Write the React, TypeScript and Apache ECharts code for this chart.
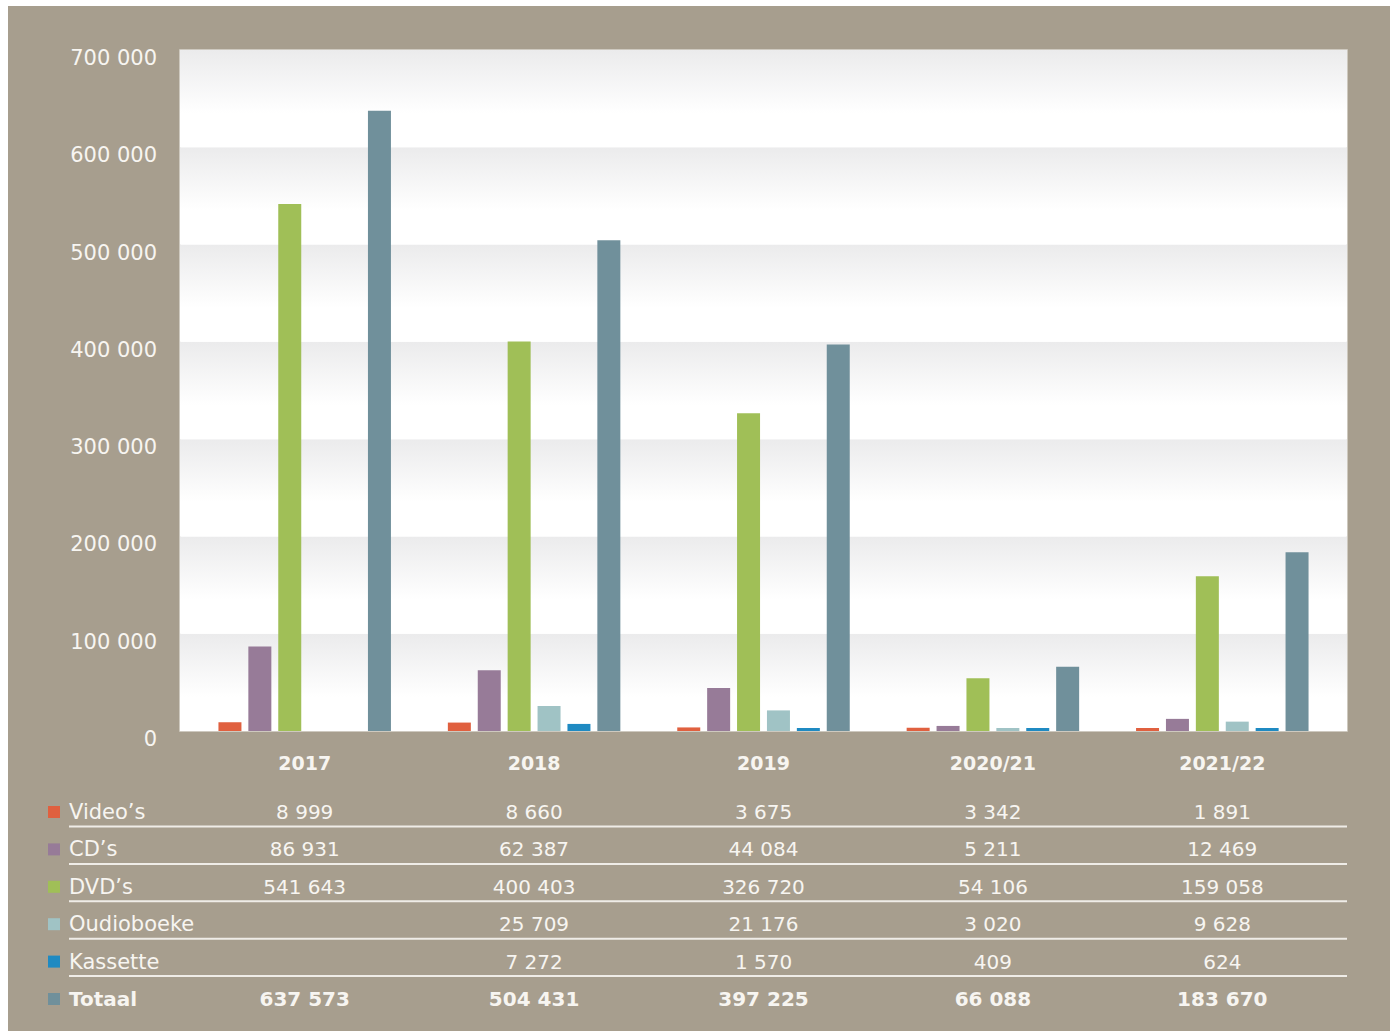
import React, { useEffect, useRef } from "react";
import * as echarts from "echarts";

const categories = ["2017", "2018", "2019", "2020/21", "2021/22"];
const seriesNames = ["Video’s", "CD’s", "DVD’s", "Oudioboeke", "Kassette", "Totaal"];
const seriesColors = ["#e0603f", "#977b98", "#a0bf57", "#a0c3c5", "#1f8ac2", "#70909b"];
const videos = [8999, 8660, 3675, 3342, 1891];
const cds = [86931, 62387, 44084, 5211, 12469];
const dvds = [541643, 400403, 326720, 54106, 159058];
const oudioboeke = [null, 25709, 21176, 3020, 9628];
const kassette = [null, 7272, 1570, 409, 624];
const totaal = [637573, 504431, 397225, 66088, 183670];
const yMin = 0;
const yMax = 700000;
const yInterval = 100000;

const allSeries = [videos, cds, dvds, oudioboeke, kassette, totaal];

const BG = "#a79e8e";
const FONT = "'DejaVu Sans', sans-serif";
const TEXT = "#f7f5f1";

const fmt = (n: number | null) =>
  n == null ? "" : String(n).replace(/\B(?=(\d{3})+(?!\d))/g, " ");

export default function App() {
  const ref = useRef<HTMLDivElement>(null);
  useEffect(() => {
    if (!ref.current) return;
    const chart = echarts.init(ref.current, null, { renderer: "svg" });
    const band = new echarts.graphic.LinearGradient(0, 0, 0, 1, [
      { offset: 0, color: "#ebebec" },
      { offset: 0.65, color: "#ffffff" },
      { offset: 1, color: "#ffffff" },
    ]);
    chart.setOption({
      animation: false,
      backgroundColor: BG,
      grid: [
        {
          left: 172,
          top: 44,
          width: 1167,
          height: 681,
          show: true,
          backgroundColor: "#ffffff",
          borderColor: "#dcd8d0",
          borderWidth: 1.5,
        },
        { left: 182, top: 44, width: 1147, height: 681 },
      ],
      xAxis: [
        { gridIndex: 0, type: "value", show: false, min: 0, max: 1 },
        {
          gridIndex: 1,
          type: "category",
          data: categories,
          axisLine: { show: false },
          axisTick: { show: false },
          axisLabel: {
            color: TEXT,
            fontFamily: FONT,
            fontWeight: "bold",
            fontSize: 19,
            margin: 22,
          },
        },
      ],
      yAxis: [
        {
          gridIndex: 0,
          type: "value",
          min: yMin,
          max: yMax,
          interval: yInterval,
          axisLine: { show: false },
          axisTick: { show: false },
          splitLine: { show: false },
          splitArea: { show: true, areaStyle: { color: [band, band] } },
          axisLabel: {
            color: TEXT,
            fontFamily: FONT,
            fontSize: 21,
            margin: 23,
            verticalAlign: "top",
            lineHeight: 16,
            formatter: (v: number) => fmt(v),
          },
        },
        {
          gridIndex: 1,
          type: "value",
          min: yMin,
          max: yMax,
          interval: yInterval,
          show: false,
          splitLine: { show: false },
        },
      ],
      series: allSeries.map((d, i) => ({
        type: "bar",
        name: seriesNames[i],
        xAxisIndex: 1,
        yAxisIndex: 1,
        data: d,
        barWidth: 23,
        barGap: "30%",
        barMinHeight: 3,
        itemStyle: { color: seriesColors[i] },
      })),
    });

    const xs = categories.map((c) => chart.convertToPixel({ xAxisIndex: 1 }, c) as number);
    const rowY0 = 806;
    const rowH = 37.4;
    const graphics: any[] = [];
    seriesNames.forEach((name, r) => {
      const y = rowY0 + r * rowH;
      const bold = r === seriesNames.length - 1;
      graphics.push({
        type: "rect",
        shape: { x: 40, y: y - 6, width: 12, height: 12 },
        style: { fill: seriesColors[r] },
      });
      graphics.push({
        type: "text",
        x: 61,
        y,
        style: {
          text: name,
          fill: TEXT,
          font: `${bold ? "bold 20px" : "21px"} ${FONT}`,
          verticalAlign: "middle",
          align: "left",
        },
      });
      allSeries[r].forEach((v, c) => {
        graphics.push({
          type: "text",
          x: xs[c],
          y,
          style: {
            text: fmt(v as number | null),
            fill: TEXT,
            font: `${bold ? "bold " : ""}20px ${FONT}`,
            verticalAlign: "middle",
            align: "center",
          },
        });
      });
      if (!bold) {
        graphics.push({
          type: "line",
          shape: { x1: 61, y1: y + 14.5, x2: 1339, y2: y + 14.5 },
          style: { stroke: "#efece7", lineWidth: 2 },
        });
      }
    });
    chart.setOption({ graphic: graphics });
    return () => chart.dispose();
  }, []);
  return (
    <div
      ref={ref}
      style={{ position: "absolute", left: 8, top: 6, width: 1382, height: 1025 }}
    />
  );
}
